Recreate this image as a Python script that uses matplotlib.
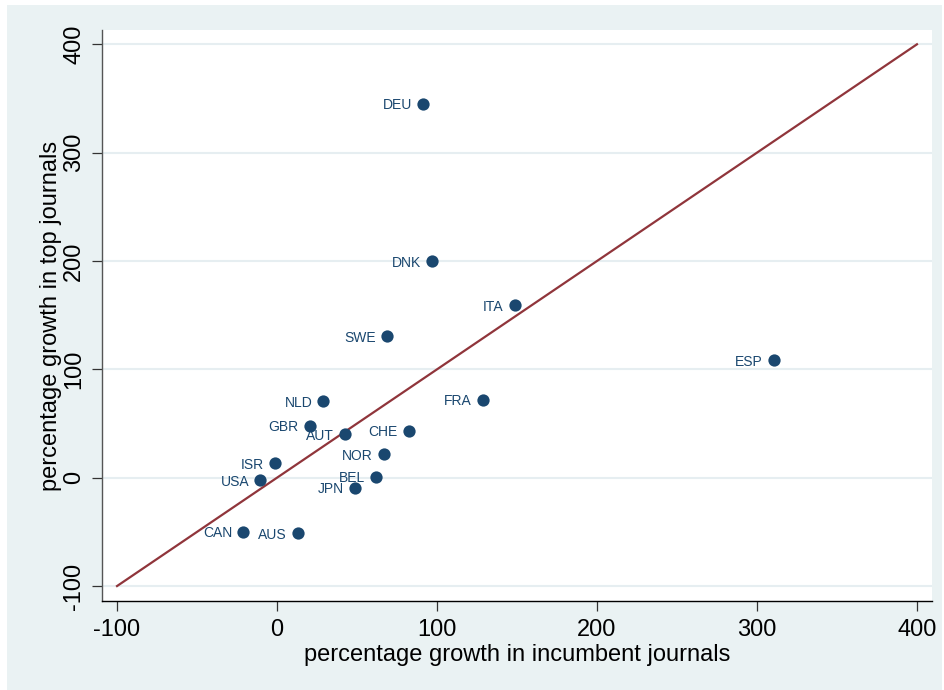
import numpy as np
import matplotlib
matplotlib.use("Agg")
import matplotlib.pyplot as plt
from matplotlib.patches import Rectangle

plt.rcParams['font.family'] = ['Liberation Sans', 'DejaVu Sans']

# country data: growth in incumbent journals (x) vs top journals (y)
paises = ["DEU", "DNK", "ITA", "SWE", "ESP", "FRA", "NLD", "GBR", "AUT",
          "CHE", "NOR", "ISR", "USA", "BEL", "JPN", "CAN", "AUS"]
crec_incumbent = [91.5, 97, 148.5, 68.5, 310.5, 128.5, 29, 20.5, 42.5,
                  82.5, 67, -1.5, -10.5, 62, 49, -21, 13]
crec_top = [345, 200, 159, 130.5, 108.5, 72, 70.5, 48, 40,
            43.5, 21.5, 13.5, -2.5, 1, -9.5, -50, -51.5]

# 45 degree reference line
linea_x = [-100, 400]
linea_y = [-100, 400]

ticks = [-100, 0, 100, 200, 300, 400]

navy = "#1a476f"
maroon = "#90353b"
fondo = "#eaf2f3"

fig = plt.figure(figsize=(9.44, 6.9), dpi=100)
fig.patch.set_facecolor("white")
fig.patches.append(Rectangle((7/944, 0), 935/944, 685/690, transform=fig.transFigure,
                             facecolor=fondo, edgecolor="none", zorder=-10))

ax = fig.add_axes([102/944, 1 - 601/690, 830/944, 571/690])
ax.set_facecolor("white")

for t in ticks:
    ax.axhline(t, color="#e6eef1", lw=1.5, zorder=0)

ax.plot(linea_x, linea_y, color=maroon, lw=1.6, zorder=2)
ax.scatter(crec_incumbent, crec_top, s=78, color=navy, zorder=3, linewidths=0)

for nombre, x, y in zip(paises, crec_incumbent, crec_top):
    ax.annotate(nombre, (x, y), xytext=(-8, 0), textcoords="offset points",
                ha="right", va="center_baseline", fontsize=10, color=navy, zorder=4)

ax.set_xlim(-109.4, 409.4)
ax.set_ylim(-113.8, 413.2)
ax.set_xticks(ticks)
ax.set_yticks(ticks)
ax.set_xticklabels([str(t) for t in ticks], fontsize=17)
ax.set_yticklabels([str(t) for t in ticks], fontsize=17, rotation=90, va="center")
ax.tick_params(axis="both", length=7, width=0.9, color="#333333", pad=6)
ax.tick_params(axis="y", pad=5)

for lado in ["top", "right"]:
    ax.spines[lado].set_visible(False)
ax.spines["left"].set_color("#555555")
ax.spines["bottom"].set_color("black")
ax.spines["left"].set_linewidth(1.0)
ax.spines["bottom"].set_linewidth(1.0)

ax.set_xlabel("percentage growth in incumbent journals", fontsize=17, labelpad=2)
ax.set_ylabel("percentage growth in top journals", fontsize=17, labelpad=1)

fig.savefig("out.png", dpi=100)
